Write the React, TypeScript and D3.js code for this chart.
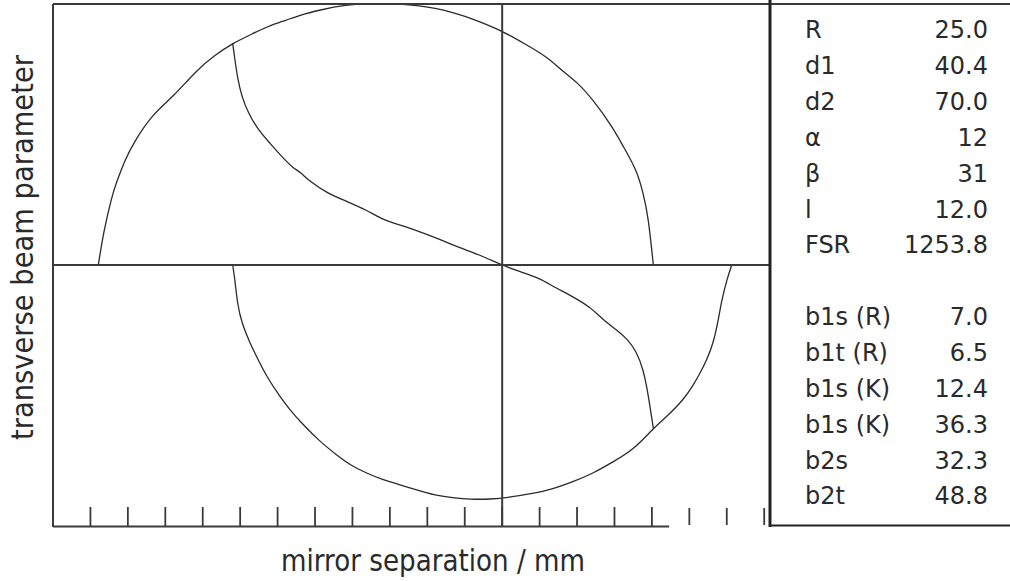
import React from "react";
import * as d3 from "d3";

// Mirror separation (mm) / transverse beam parameter curves
const upperArc: [number, number][] = [
  [6.05, 0], [6.72, 6.07], [7.84, 13.08], [8.51, 15.96], [9.62, 20.11], [10.73, 23.31],
  [13.18, 28.74], [16.07, 32.24], [19.2, 37.36], [21.64, 40.23], [24.0, 42.47],
  [26.32, 44.06], [28.55, 45.65], [31.22, 46.93], [32.99, 47.89], [35.67, 48.85],
  [38.78, 49.81], [43.68, 50.29], [48.58, 49.81], [53.47, 48.52], [57.04, 46.61],
  [59.94, 44.89], [63.28, 42.15], [65.95, 39.9], [68.17, 37.03], [69.96, 35.11],
  [72.18, 31.61], [74.85, 26.19], [76.18, 22.66], [77.97, 18.2], [78.85, 13.74],
  [79.52, 9.25], [80.19, 0],
];

const sCurve: [number, number][] = [
  [24.0, 42.47], [24.31, 39.27], [24.62, 36.07], [25.21, 32.24], [26.09, 29.06],
  [27.42, 25.86], [28.99, 23.31], [30.55, 20.75], [32.1, 18.52], [32.99, 17.87],
  [34.33, 15.96], [36.56, 13.85], [38.78, 12.45], [41.9, 10.54], [44.12, 8.62],
  [46.35, 7.66], [48.13, 6.84], [50.8, 5.42], [53.93, 3.51], [57.04, 1.92],
  [59.94, 0], [62.38, -1.28], [65.05, -2.55], [66.83, -4.16], [69.06, -5.75],
  [71.73, -7.99], [73.51, -10.54], [75.3, -12.45], [76.64, -14.04], [77.97, -16.61],
  [78.85, -20.11], [79.31, -23.31], [79.75, -27.15], [80.19, -31.28],
];

const lowerArc: [number, number][] = [
  [24.0, 0], [24.31, -2.87], [24.62, -7.34], [25.21, -11.17], [26.32, -15.0],
  [27.42, -18.2], [28.55, -21.4], [30.32, -25.23], [31.66, -27.78], [33.44, -30.65],
  [35.67, -33.85], [37.9, -36.4], [39.67, -38.31], [41.9, -39.9], [44.12, -41.19],
  [46.35, -42.09], [48.58, -43.1], [50.8, -44.06], [53.47, -44.58], [55.7, -44.89],
  [58.38, -44.89], [61.05, -44.5], [64.16, -43.74], [66.39, -43.1], [69.5, -41.51],
  [72.18, -39.9], [74.85, -37.68], [77.52, -35.44], [80.19, -31.28], [81.98, -29.06],
  [84.2, -25.86], [85.53, -22.99], [86.43, -20.75], [87.32, -18.2], [88.2, -15.0],
  [88.87, -10.54], [89.33, -6.7], [90.0, -2.87], [90.66, 0],
];

const tickValues = [5, 10, 15, 20, 25, 30, 35, 40, 45, 50, 55, 60, 65, 70, 75, 80, 85, 90, 95];
const axisLineEnd = 82.3;
const centerX = 60;

const paramLabels = ["R", "d1", "d2", "α", "β", "l", "FSR"];
const paramValues = ["25.0", "40.4", "70.0", "12", "31", "12.0", "1253.8"];
const beamLabels = ["b1s (R)", "b1t (R)", "b1s (K)", "b1s (K)", "b2s", "b2t"];
const beamValues = ["7.0", "6.5", "12.4", "36.3", "32.3", "48.8"];

const W = 1010;
const H = 581;
const left = 53;
const top = 4;
const right = 770;
const bottom = 526;

export default function App() {
  const x = d3.scaleLinear().domain([0, 95]).range([left, 764.2]);
  const y = d3.scaleLinear().domain([-50, 50]).range([bottom, top]);
  const line = d3
    .line<[number, number]>()
    .x((d) => x(d[0]))
    .y((d) => y(d[1]))
    .curve(d3.curveBasis);

  const ink = "#2a2a2a";
  const frame = "#3a3a3a";
  const font = "'DejaVu Sans', sans-serif";
  const rowY = (i: number) => 38.3 + i * 35.85;

  const rows = [
    ...paramLabels.map((l, i) => ({ label: l, value: paramValues[i], row: i })),
    ...beamLabels.map((l, i) => ({ label: l, value: beamValues[i], row: i + 8 })),
  ];

  return (
    <svg
      width={W}
      height={H}
      style={{ position: "absolute", left: 0, top: 0, background: "#fff" }}
    >
      <defs>
        <clipPath id="plot-area">
          <rect x={left} y={top} width={right - left} height={bottom - top} />
        </clipPath>
      </defs>

      {/* curves */}
      <g clipPath="url(#plot-area)" fill="none" stroke={ink} strokeWidth={1.3}>
        <path d={line(upperArc) || ""} />
        <path d={line(sCurve) || ""} />
        <path d={line(lowerArc) || ""} />
      </g>

      {/* frame and cross-hair */}
      <g stroke={frame} strokeWidth={2} fill="none">
        <line x1={left} y1={top} x2={W} y2={top} />
        <line x1={left} y1={top} x2={left} y2={bottom + 1} />
        <line x1={left} y1={y(0)} x2={right} y2={y(0)} />
        <line x1={x(centerX)} y1={top} x2={x(centerX)} y2={bottom + 1} />
        <line x1={left} y1={bottom + 0.5} x2={x(axisLineEnd)} y2={bottom + 0.5} />
      </g>

      {/* ticks */}
      <g stroke={frame} strokeWidth={1.8}>
        {tickValues.map((t) => (
          <line
            key={t}
            x1={x(t)}
            x2={x(t)}
            y1={bottom}
            y2={t > axisLineEnd ? bottom - 17 : bottom - 19}
            transform={t > axisLineEnd ? "translate(0,-1)" : undefined}
          />
        ))}
      </g>

      {/* parameter panel border */}
      <g stroke="#222" fill="none">
        <line x1={right} y1={0} x2={right} y2={bottom + 1} strokeWidth={3} />
        <line x1={right} y1={bottom - 0.5} x2={W} y2={bottom - 0.5} strokeWidth={2} />
      </g>

      {/* parameter table */}
      <g fontFamily={font} fontSize={24} fill={ink}>
        {rows.map((r) => (
          <g key={r.row}>
            <text x={805} y={rowY(r.row)}>
              {r.label}
            </text>
            <text x={988} y={rowY(r.row)} textAnchor="end">
              {r.value}
            </text>
          </g>
        ))}
      </g>

      {/* axis titles */}
      <text
        x={433}
        y={571}
        textAnchor="middle"
        fontFamily={font}
        fontSize={30}
        fill={ink}
        textLength={304}
        lengthAdjust="spacingAndGlyphs"
      >
        mirror separation / mm
      </text>
      <text
        transform="translate(33,247.5) rotate(-90)"
        textAnchor="middle"
        fontFamily={font}
        fontSize={30}
        fill={ink}
        textLength={385}
        lengthAdjust="spacingAndGlyphs"
      >
        transverse beam parameter
      </text>
    </svg>
  );
}
